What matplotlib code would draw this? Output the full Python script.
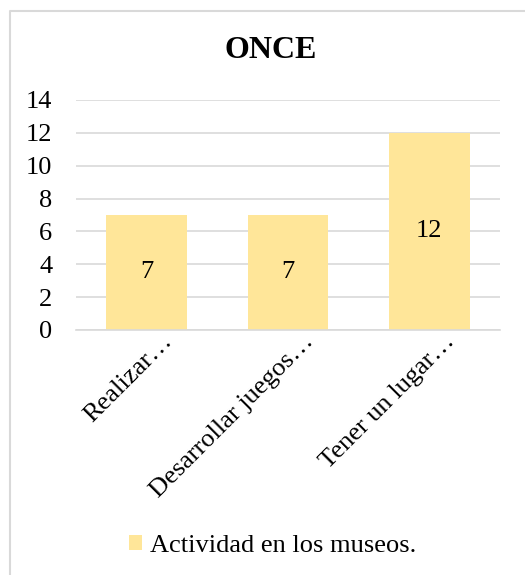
import matplotlib.pyplot as plt
import matplotlib.transforms as mtransforms
from matplotlib.lines import Line2D
import numpy as np

categories = ['Realizar\u2026', 'Desarrollar juegos\u2026', 'Tener un lugar\u2026']
values = [7, 7, 12]
series_name = 'Actividad en los museos.'
title = 'ONCE'
yticks = [0, 2, 4, 6, 8, 10, 12, 14]

plt.rcParams['font.family'] = ['Liberation Serif', 'DejaVu Serif']

W, H = 525, 575
fig = plt.figure(figsize=(W / 100, H / 100), dpi=100)

# chart frame (only left and top edges are in view)
fig.lines.append(Line2D([9.5 / W, 9.5 / W, 1.01], [-0.01, 1 - 10.5 / H, 1 - 10.5 / H],
                        transform=fig.transFigure, color='#D9D9D9', linewidth=1.5))

ax = fig.add_axes([76 / W, 1 - 330 / H, 424 / W, 230 / H])
x = np.arange(len(categories))
bars = ax.bar(x, values, width=0.57, color='#FFE699', zorder=2, label=series_name)
ax.bar_label(bars, labels=[str(v) for v in values], label_type='center',
             fontsize=19, color='black')

ax.set_xlim(-0.5, len(categories) - 0.5)
ax.set_ylim(0, 14)
ax.set_yticks(yticks)
ax.set_yticklabels([str(t) for t in yticks], fontsize=19)
ax.set_xticks(x)
ax.set_xticklabels([])
# rotated category labels, nudged right like the original
shift = mtransforms.ScaledTranslation(16 / 72, -6 / 72, fig.dpi_scale_trans)
for xi, cat in zip(x, categories):
    ax.text(xi, 0, cat, transform=ax.get_xaxis_transform() + shift,
            rotation=45, ha='right', va='center', rotation_mode='anchor',
            fontsize=19)
ax.tick_params(length=0)
ax.tick_params(axis='y', pad=17)
ax.grid(axis='y', color='#D9D9D9', linewidth=1.2, zorder=0)
for s in ['top', 'right', 'left']:
    ax.spines[s].set_visible(False)
ax.spines['bottom'].set_color('#D9D9D9')
ax.spines['bottom'].set_linewidth(1.2)

fig.text(0.5 + 8 / W, 1 - 51 / H, title, ha='center', va='center',
         fontsize=23, fontweight='bold')

fig.legend(handles=[bars], labels=[series_name], loc='center',
           bbox_to_anchor=(0.5 + 10 / W, 1 - 546 / H), frameon=False,
           fontsize=19, handlelength=0.5, handleheight=0.5, handletextpad=0.3)

fig.savefig('out.png', dpi=100, facecolor='white')
